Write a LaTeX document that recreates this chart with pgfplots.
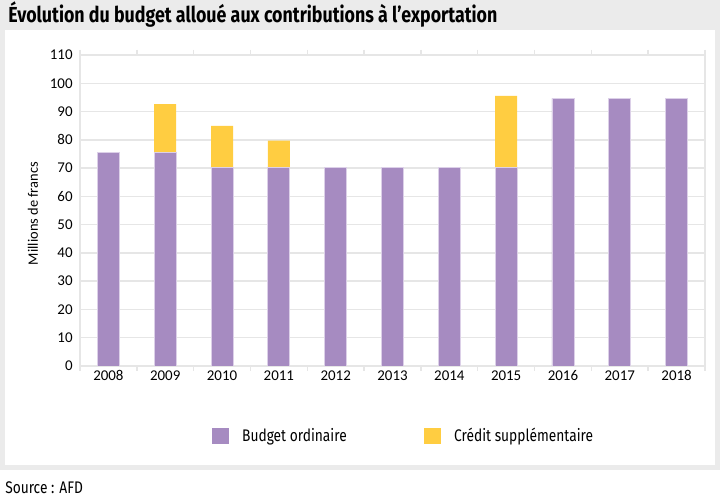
\documentclass[border=0pt]{standalone}
\usepackage{fontspec}
\setmainfont{Fira Sans}
\newfontfamily\condfont[FakeStretch=0.82]{Fira Sans}
\newfontfamily\tickfont{Carlito}
\usepackage{pgfplots}
\pgfplotsset{compat=1.18}
\definecolor{bgray}{HTML}{EBEBEB}
\definecolor{gridc}{HTML}{E6E6E6}
\definecolor{purp}{HTML}{A68BC1}
\definecolor{purpedge}{HTML}{DCD0E8}
\definecolor{yell}{HTML}{FFCD41}
\begin{document}
\begin{tikzpicture}
\useasboundingbox (0,0) rectangle (540pt,374.25pt);
\fill[bgray] (0,21.75pt) rectangle (540pt,374.25pt);
\fill[white] (3.75pt,25.5pt) rectangle (536.25pt,351.75pt);
\node[anchor=base west, inner sep=0pt] at (6pt,357pt) {\condfont\bfseries\fontsize{16.3}{19}\selectfont Évolution du budget alloué aux contributions à l’exportation};
\node[anchor=base west, inner sep=0pt] at (3.75pt,4pt) {\condfont\fontsize{12.6}{15}\selectfont Source : AFD};
\begin{axis}[
  at={(60pt,99.75pt)}, anchor=south west,
  scale only axis, width=468.75pt, height=233.25pt,
  ybar stacked, bar width=16.5pt,
  xmin=-0.5, xmax=10.5, ymin=0, ymax=110,
  xtick={0,...,10},
  xticklabels={2008,2009,2010,2011,2012,2013,2014,2015,2016,2017,2018},
  ytick={0,10,...,110},
  xtick style={draw=none}, ytick style={draw=none},
  extra x ticks={-0.5,0.5,...,10.5},
  extra x tick labels={},
  extra x tick style={xtick style={draw=gridc, line width=1.1pt}, major tick length=3.75pt, tick align=outside, grid=none},
  ymajorgrids, grid style={draw=gridc, line width=1.1pt},
  axis line style={draw=gridc, line width=1.1pt},
  /pgf/number format/assume math mode=true,
  ticklabel style={font=\tickfont\fontsize{11.2}{13}\selectfont},
  yticklabel style={xshift=-2pt},
  ylabel={Millions de francs},
  every axis y label/.style={at={(axis description cs:-0.0752,0.49)}, rotate=90, anchor=center, font=\tickfont\fontsize{10.8}{12}\selectfont},
  legend style={at={(axis description cs:0.211,-0.225)}, anchor=west, draw=none, fill=none, legend columns=2,
    font=\condfont\fontsize{12.6}{15}\selectfont, inner sep=0pt,
    /tikz/every even column/.append style={column sep=56pt}},
  legend cell align=left,
  legend image code/.code={\fill[#1, draw=none] (0pt,-6pt) rectangle (12.75pt,6pt); \path[draw=none, fill=none] (0pt,0pt) -- (20.5pt,0pt);},
]
\addplot[fill=purp, draw=purpedge, line width=0.6pt] coordinates {(0,75.5)(1,75.5)(2,70.2)(3,70.2)(4,70.2)(5,70.2)(6,70.2)(7,70.2)(8,94.7)(9,94.7)(10,94.7)};
\addplot[fill=yell, draw=none] coordinates {(0,0)(1,17.1)(2,14.7)(3,9.5)(4,0)(5,0)(6,0)(7,25.3)(8,0)(9,0)(10,0)};
\legend{Budget ordinaire, Crédit supplémentaire}
\end{axis}
\end{tikzpicture}
\end{document}
